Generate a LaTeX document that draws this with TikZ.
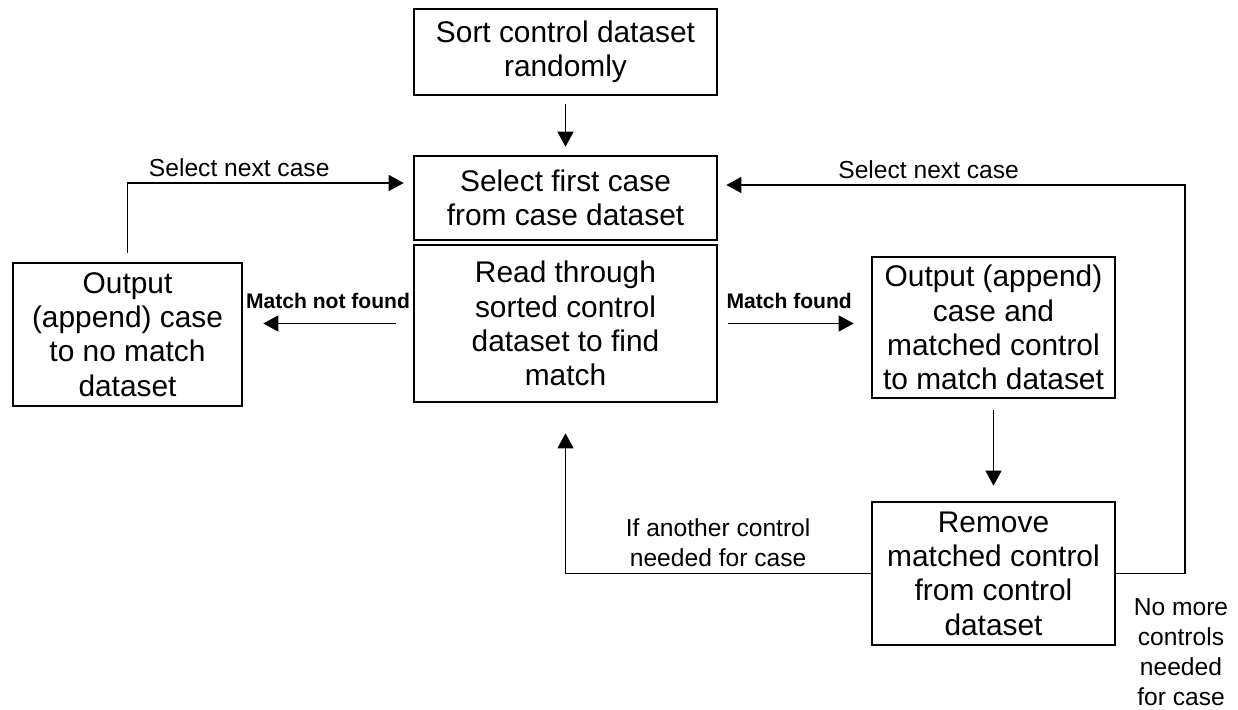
\documentclass[tikz,border=0pt]{standalone}
\usepackage{fontspec}
\setmainfont{Liberation Sans}
\usetikzlibrary{arrows.meta, positioning, calc}

\begin{document}
\begin{tikzpicture}[
    box/.style={rectangle, draw=black, line width=1.5pt, align=center, inner sep=2pt, font=\fontsize{17}{19.5}\selectfont},
    arr/.style={-{Triangle[length=3mm, width=3.2mm]}, line width=0.7pt, draw=black},
    lbl/.style={font=\fontsize{14}{17}\selectfont, align=center},
    lbl_bold/.style={font=\fontsize{12}{14}\selectfont\bfseries}
]
    \useasboundingbox (0,0) rectangle (24.76,14.2);

    % Middle column
    \node[box, minimum width=6.06cm, minimum height=1.72cm] (sort) at (11.31, 13.16) {Sort control dataset\\randomly};
    \node[box, minimum width=6.06cm, minimum height=1.68cm] (select) at (11.31, 10.24) {Select first case\\from case dataset};
    \node[box, minimum width=6.06cm, minimum height=3.14cm] (read) at (11.31, 7.73) {Read through\\sorted control\\dataset to find\\match};

    % Left and right boxes
    \node[box, minimum width=4.58cm, minimum height=2.86cm] (nomatch) at (2.55, 7.51) {Output\\(append) case\\to no match\\dataset};
    \node[box, minimum width=4.86cm, minimum height=2.82cm] (matchout) at (19.87, 7.65) {Output (append)\\case and\\matched control\\to match dataset};
    \node[box, minimum width=4.86cm, minimum height=2.86cm] (remove) at (19.87, 2.73) {Remove\\matched control\\from control\\dataset};

    % Turning points of the two loops back to the top
    \coordinate (ltop) at (2.46, 10.54);
    \coordinate (rtop) at (23.7, 10.5);

    \draw[arr, shorten <=0.16cm, shorten >=0.16cm] (sort) -- (select);

    \draw[arr, shorten <=0.34cm, shorten >=0.4cm] (read.west) -- node[lbl_bold, above=5pt] {Match not found} (read.west -| nomatch.east);
    \draw[arr, shorten <=0.2cm, shorten >=0.34cm] (read.east) -- node[lbl_bold, pos=0, above right=5pt and 1pt] {Match found} (read.east -| matchout.west);
    \draw[arr, shorten <=0.22cm, shorten >=0.3cm] (matchout) -- (remove);

    % Loops
    \draw[arr, shorten <=0.18cm, shorten >=0.18cm] (nomatch.north) |- node[pos=0.5, lbl, anchor=south west, xshift=0.3cm] {Select next case} (select.west |- ltop);
    \draw[arr, shorten >=0.6cm] (remove.west) -| node[pos=0.25, lbl, above] {If another control\\needed for case} (read.south);
    \draw[arr, shorten >=0.16cm] (remove.east) -| (rtop) -- node[lbl, above, xshift=-0.46cm] {Select next case} (select.east |- rtop);

    \node[lbl] (nomore) at (23.62, 1.16) {No more\\controls\\needed\\for case};
\end{tikzpicture}
\end{document}
